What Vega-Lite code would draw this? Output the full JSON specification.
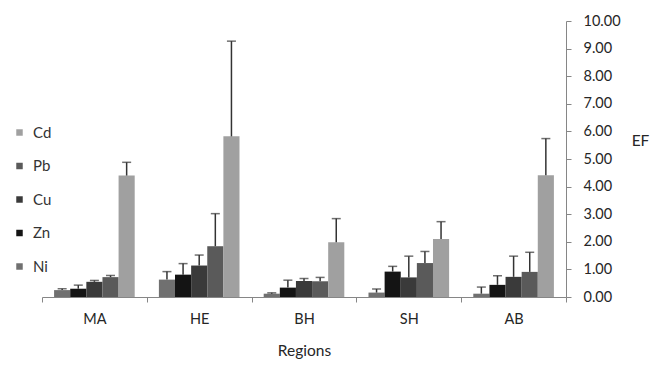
{
  "$schema": "https://vega.github.io/schema/vega-lite/v6.json",
  "width": 524,
  "height": 276,
  "autosize": {"type": "none"},
  "padding": {"left": 42, "top": 21, "right": 98, "bottom": 72},
  "background": "white",
  "config": {
    "font": "Lato",
    "view": {"stroke": null},
    "axis": {"domainColor": "#868686", "tickColor": "#868686", "labelColor": "#262626", "titleColor": "#262626", "grid": false, "titleFontWeight": "normal"},
    "axisY": {"orient": "right", "titleAngle": 0, "titleX": 74, "titleY": 119, "titleAlign": "center", "titleBaseline": "middle", "titleFontSize": 15.5, "tickCount": 10, "format": ".2f", "tickSize": 5, "labelPadding": 12, "labelFontSize": 14.5, "labelOverlap": false, "labelBound": false, "labelFlush": false}
  },
  "data": {
    "values": [
      {"region": "MA", "metal": "Ni", "ef": 0.25, "upper": 0.30},
      {"region": "MA", "metal": "Zn", "ef": 0.30, "upper": 0.43},
      {"region": "MA", "metal": "Cu", "ef": 0.55, "upper": 0.60},
      {"region": "MA", "metal": "Pb", "ef": 0.72, "upper": 0.78},
      {"region": "MA", "metal": "Cd", "ef": 4.40, "upper": 4.88},
      {"region": "HE", "metal": "Ni", "ef": 0.63, "upper": 0.92},
      {"region": "HE", "metal": "Zn", "ef": 0.81, "upper": 1.21},
      {"region": "HE", "metal": "Cu", "ef": 1.14, "upper": 1.52},
      {"region": "HE", "metal": "Pb", "ef": 1.84, "upper": 3.02},
      {"region": "HE", "metal": "Cd", "ef": 5.82, "upper": 9.27},
      {"region": "BH", "metal": "Ni", "ef": 0.12, "upper": 0.15},
      {"region": "BH", "metal": "Zn", "ef": 0.34, "upper": 0.61},
      {"region": "BH", "metal": "Cu", "ef": 0.58, "upper": 0.67},
      {"region": "BH", "metal": "Pb", "ef": 0.57, "upper": 0.71},
      {"region": "BH", "metal": "Cd", "ef": 1.98, "upper": 2.84},
      {"region": "SH", "metal": "Ni", "ef": 0.16, "upper": 0.29},
      {"region": "SH", "metal": "Zn", "ef": 0.92, "upper": 1.11},
      {"region": "SH", "metal": "Cu", "ef": 0.71, "upper": 1.48},
      {"region": "SH", "metal": "Pb", "ef": 1.23, "upper": 1.65},
      {"region": "SH", "metal": "Cd", "ef": 2.10, "upper": 2.73},
      {"region": "AB", "metal": "Ni", "ef": 0.12, "upper": 0.36},
      {"region": "AB", "metal": "Zn", "ef": 0.44, "upper": 0.77},
      {"region": "AB", "metal": "Cu", "ef": 0.73, "upper": 1.48},
      {"region": "AB", "metal": "Pb", "ef": 0.91, "upper": 1.62},
      {"region": "AB", "metal": "Cd", "ef": 4.41, "upper": 5.74}
    ]
  },
  "encoding": {
    "x": {
      "field": "region", "type": "nominal", "sort": ["MA", "HE", "BH", "SH", "AB"],
      "scale": {"paddingInner": 0, "paddingOuter": 0},
      "axis": {"title": "Regions", "labelAngle": 0, "tickBand": "extent", "tickSize": 5, "labelPadding": 10, "labelFontSize": 14.5, "titleFontSize": 15.5, "titleY": 53, "titleBaseline": "middle"}
    },
    "xOffset": {
      "field": "metal", "type": "nominal", "sort": ["Ni", "Zn", "Cu", "Pb", "Cd"],
      "scale": {"paddingInner": 0, "paddingOuter": 0.75}
    }
  },
  "layer": [
    {
      "mark": {"type": "bar"},
      "encoding": {
        "y": {
          "field": "ef", "type": "quantitative", "scale": {"domain": [0, 10], "nice": false},
          "axis": {"title": "EF"}
        },
        "color": {
          "field": "metal", "type": "nominal",
          "scale": {"domain": ["Cd", "Pb", "Cu", "Zn", "Ni"], "range": ["#a0a0a0", "#5a5a5a", "#3a3a3a", "#141414", "#707070"]},
          "legend": {"orient": "none", "legendX": -30, "legendY": 104, "title": null, "symbolType": "square", "symbolSize": 42, "symbolStrokeWidth": 0, "labelFontSize": 15, "labelColor": "#333333", "rowPadding": 17.5, "labelOffset": 6}
        }
      }
    },
    {
      "mark": {"type": "rule", "color": "#333333", "strokeWidth": 1.5},
      "encoding": {
        "y": {"field": "ef", "type": "quantitative", "axis": {"title": "EF"}},
        "y2": {"field": "upper"}
      }
    },
    {
      "mark": {"type": "tick", "color": "#333333", "thickness": 1.5, "size": 9},
      "encoding": {
        "y": {"field": "upper", "type": "quantitative", "axis": {"title": "EF"}}
      }
    }
  ]
}
